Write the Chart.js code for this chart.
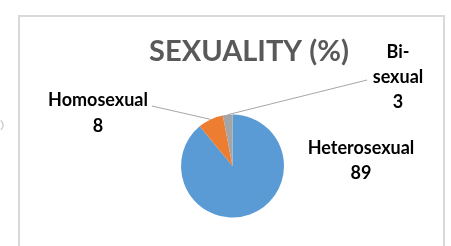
<!DOCTYPE html>
<html>
<head>
<meta charset="utf-8">
<script src="https://cdn.jsdelivr.net/npm/chart.js@4.4.0/dist/chart.umd.min.js"></script>
<style>
  html, body { margin: 0; padding: 0; background: #fff; }
  #wrap { position: relative; width: 451px; height: 246px; overflow: hidden; }
  #frame { position: absolute; left: 18px; top: 15px; width: 427px; height: 260px; border: 2px solid #d9d9d9; box-sizing: border-box; }
  canvas { position: absolute; left: 0; top: 0; }
</style>
</head>
<body>
<div id="wrap">
  <div id="frame"></div>
  <canvas id="pie" width="451" height="246"></canvas>
</div>
<script>
// chart data
const categories = ['Heterosexual', 'Homosexual', 'Bi-sexual'];
const shares = [89, 8, 3];
const colors = ['#5b9bd5', '#ed7d31', '#a5a5a5'];
const chartTitle = 'SEXUALITY (%)';

const FONT = "Lato, 'Open Sans', sans-serif";

// excel-style data labels with leader lines
const sliceLabels = {
  id: 'sliceLabels',
  afterDatasetsDraw(chart) {
    const { ctx } = chart;
    const arcs = chart.getDatasetMeta(0).data;
    ctx.save();

    // title
    ctx.font = 'bold 29px ' + FONT;
    ctx.fillStyle = '#595959';
    ctx.textAlign = 'center';
    ctx.textBaseline = 'middle';
    ctx.fillText(chartTitle, 249, 52);

    const spots = [
      { lines: ['Heterosexual', '89'], x: 361, y: 148, gap: 25, leader: false },
      { lines: ['Homosexual', '8'], x: 98, y: 100, gap: 26, leader: true, lx: 152, ly: 106 },
      { lines: ['Bi-', 'sexual', '3'], x: 398, y: 52, gap: 25, leader: true, lx: 367, ly: 80 }
    ];

    arcs.forEach((arc, i) => {
      const s = spots[i];
      const p = arc.getProps(['x', 'y', 'startAngle', 'endAngle', 'outerRadius'], true);
      const mid = (p.startAngle + p.endAngle) / 2;
      if (s.leader) {
        const ex = p.x + Math.cos(mid) * p.outerRadius;
        const ey = p.y + Math.sin(mid) * p.outerRadius;
        ctx.strokeStyle = '#a6a6a6';
        ctx.lineWidth = 1;
        ctx.beginPath();
        ctx.moveTo(s.lx, s.ly);
        ctx.lineTo(ex, ey);
        ctx.stroke();
      }
      ctx.font = 'bold 18px ' + FONT;
      ctx.fillStyle = '#000';
      ctx.textAlign = 'center';
      ctx.textBaseline = 'middle';
      s.lines.forEach((t, k) => ctx.fillText(t, s.x, s.y + k * s.gap));
    });

    // stray bracket at the left edge
    ctx.strokeStyle = '#d0d0d0';
    ctx.lineWidth = 1.5;
    ctx.beginPath();
    ctx.arc(-3, 125, 6, -0.9, 0.9);
    ctx.stroke();
    ctx.restore();
  }
};

new Chart(document.getElementById('pie'), {
  type: 'pie',
  data: {
    labels: categories,
    datasets: [{ data: shares, backgroundColor: colors, borderWidth: 0 }]
  },
  options: {
    responsive: false,
    animation: false,
    rotation: 0,
    layout: { padding: { left: 181, right: 167, top: 114, bottom: 28 } },
    plugins: { legend: { display: false }, tooltip: { enabled: false }, title: { display: false } }
  },
  plugins: [sliceLabels]
});
</script>
</body>
</html>
